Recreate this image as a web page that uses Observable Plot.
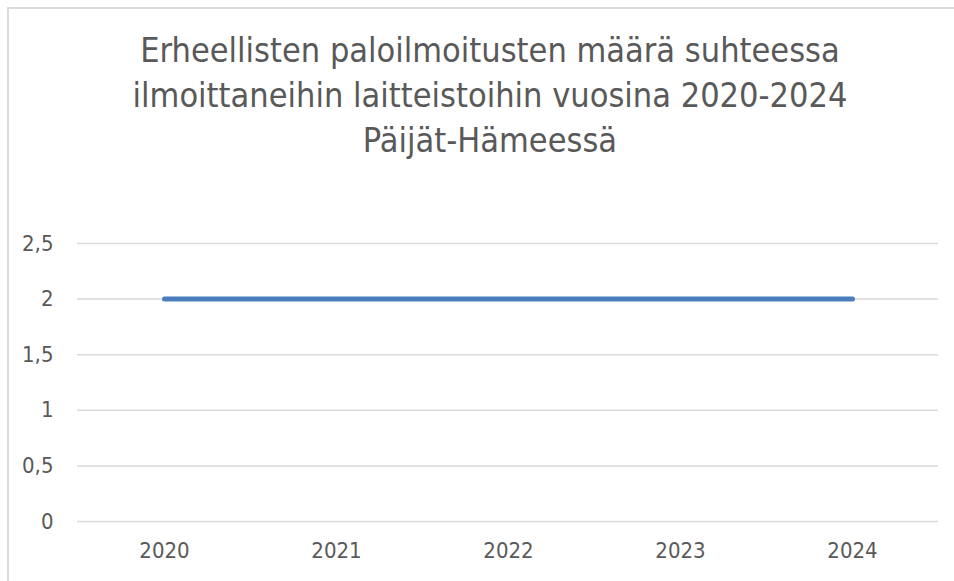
<!DOCTYPE html>
<html>
<head>
<meta charset="utf-8">
<script src="https://cdn.jsdelivr.net/npm/d3@7"></script>
<script src="https://cdn.jsdelivr.net/npm/@observablehq/plot@0.6"></script>
<style>
  html, body { margin: 0; padding: 0; background: #fff; }
  #wrap { position: relative; width: 954px; height: 581px; overflow: hidden; background: #fff; }
  #frame { position: absolute; left: 7px; top: 7px; width: 1000px; height: 1000px; border: 2px solid #dcdcdc; box-sizing: border-box; }
  #title { position: absolute; left: 0; top: 28px; width: 980px; text-align: center;
           font-family: "DejaVu Sans Condensed", "Liberation Sans Narrow", sans-serif;
           font-size: 34px; line-height: 45px; color: #595959; margin: 0; font-weight: normal;
           white-space: nowrap; }
  #chart { position: absolute; left: 0; top: 200px; }
</style>
</head>
<body>
<div id="wrap">
  <div id="frame"></div>
  <h1 id="title">Erheellisten paloilmoitusten määrä suhteessa<br>ilmoittaneihin laitteistoihin vuosina 2020-2024<br>Päijät-Hämeessä</h1>
  <div id="chart"></div>
</div>
<script>
const years = ["2020", "2021", "2022", "2023", "2024"];
const values = [2, 2, 2, 2, 2];
const yTicks = [0, 0.5, 1, 1.5, 2, 2.5];

const data = years.map((y, i) => ({year: y, value: values[i]}));
const fmt = d => String(d).replace(".", ",");

const chart = Plot.plot({
  width: 954,
  height: 381,
  marginTop: 43,
  marginBottom: 60,
  marginLeft: 77,
  marginRight: 16,
  style: {fontFamily: "'DejaVu Sans Condensed', sans-serif", fontSize: "22px", color: "#595959", background: "transparent"},
  x: {type: "point", domain: years, padding: 0.5, label: null},
  y: {domain: [0, 2.5], label: null},
  marks: [
    Plot.gridY(yTicks, {stroke: "#d9d9d9", strokeOpacity: 1, strokeWidth: 1.5}),
    Plot.axisY(yTicks, {tickSize: 0, tickPadding: 24, tickFormat: fmt, fill: "#595959", fontSize: 22}),
    Plot.axisX(years, {tickSize: 0, tickPadding: 21, fill: "#595959", fontSize: 22}),
    Plot.lineY(data, {x: "year", y: "value", stroke: "#4a7ebb", strokeWidth: 5, strokeLinecap: "round"})
  ]
});
document.getElementById("chart").appendChild(chart);
</script>
</body>
</html>
